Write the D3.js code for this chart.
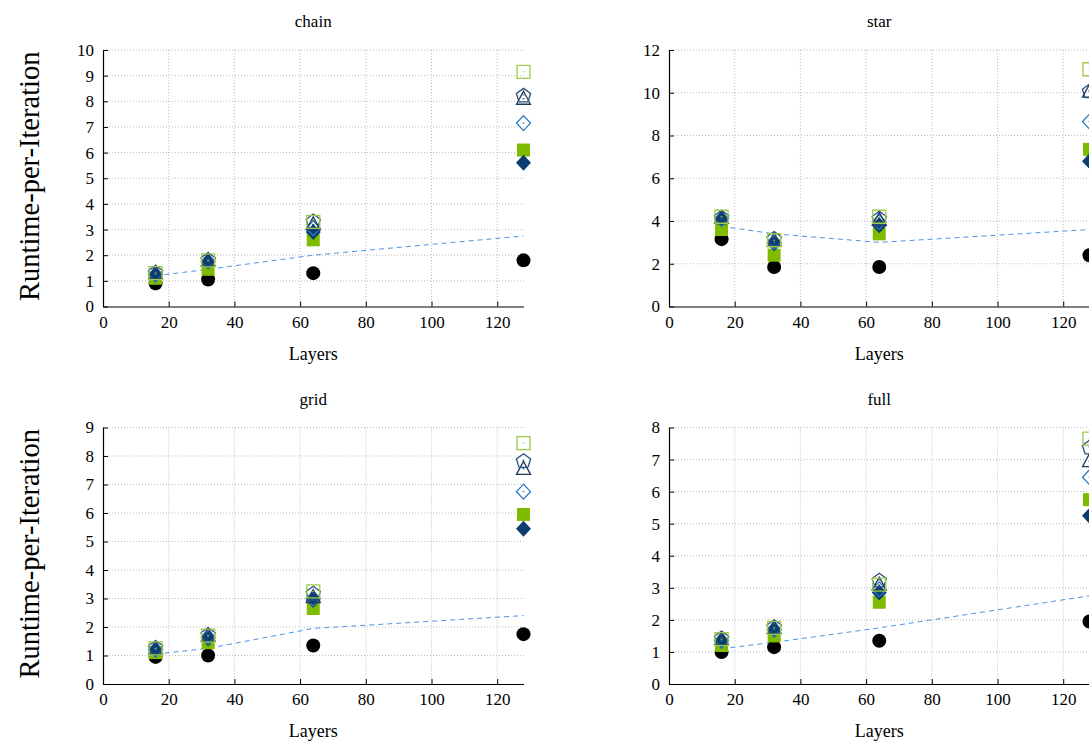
<!DOCTYPE html>
<html>
<head>
<meta charset="utf-8">
<script src="https://cdn.jsdelivr.net/npm/d3@7"></script>
<style>
  body { margin: 0; background: #fff; }
  svg text { font-family: "Liberation Serif", "Times New Roman", serif !important; }
</style>
</head>
<body>
<div id="chart"></div>
<script>
// data
var layers = [16, 32, 64, 128]
var panelNames = ["chain", "star", "grid", "full"]
var yMax = [10, 12, 9, 8]
var yStep = [1, 2, 1, 1]
var xTicks = [0, 20, 40, 60, 80, 100, 120]

// one array per series, one row per panel (chain, star, grid, full)
var circleFilled = [[0.9, 1.05, 1.3, 1.8], [3.15, 1.85, 1.85, 2.4], [0.95, 1.0, 1.35, 1.75], [1.0, 1.15, 1.35, 1.95]]
var squareFilled = [[1.1, 1.45, 2.6, 6.1], [3.6, 2.4, 3.4, 7.35], [1.1, 1.45, 2.65, 5.95], [1.2, 1.5, 2.55, 5.75]]
var diamondFilled = [[1.25, 1.75, 2.9, 5.6], [4.1, 2.95, 3.8, 6.8], [1.2, 1.6, 2.95, 5.45], [1.35, 1.7, 2.85, 5.25]]
var diamondOpen = [[1.25, 1.75, 3.05, 7.15], [4.1, 3.0, 3.95, 8.65], [1.2, 1.65, 3.0, 6.75], [1.35, 1.7, 2.95, 6.45]]
var triangleOpen = [[1.3, 1.8, 3.2, 8.1], [4.15, 3.1, 4.05, 10.05], [1.25, 1.7, 3.05, 7.55], [1.4, 1.75, 3.1, 6.95]]
var pentagonOpen = [[1.35, 1.85, 3.35, 8.25], [4.2, 3.2, 4.15, 10.1], [1.3, 1.75, 3.2, 7.85], [1.45, 1.8, 3.25, 7.4]]
var squareOpen = [[1.3, 1.8, 3.3, 9.15], [4.2, 3.1, 4.2, 11.1], [1.25, 1.7, 3.25, 8.45], [1.4, 1.75, 3.1, 7.65]]
var dashedLine = [[1.2, 1.45, 2.0, 2.75], [3.75, 3.4, 3.0, 3.6], [1.05, 1.25, 1.95, 2.4], [1.1, 1.3, 1.75, 2.75]]

var W = 1089, H = 742
var svg = d3.select("#chart").append("svg")
    .attr("width", W).attr("height", H)

// plot areas (left, top, width, height)
var plotW = 420.5, plotH = 256.5
var origins = [[103, 50], [669, 50], [103, 427.5], [669, 427.5]]

// marker shapes
function pentagonPath(r) {
    var p = []
    for (var i = 0; i < 5; i++) {
        var a = -Math.PI / 2 + i * 2 * Math.PI / 5
        p.push([r * Math.cos(a), r * Math.sin(a) + 1])
    }
    return "M" + p.join("L") + "Z"
}
var markers = [
    {data: circleFilled, path: "M-7,0A7,7 0 1,0 7,0A7,7 0 1,0 -7,0Z", fill: "#000", stroke: "none"},
    {data: squareFilled, path: "M-6.5,-6.5H6.5V6.5H-6.5Z", fill: "#7fbc00", stroke: "none"},
    {data: diamondFilled, path: "M0,-8L7.5,0L0,8L-7.5,0Z", fill: "#0b3d6e", stroke: "none"},
    {data: diamondOpen, path: "M0,-7.5L7,0L0,7.5L-7,0Z", fill: "none", stroke: "#2a75c4", dot: true},
    {data: triangleOpen, path: "M0,-7.5L7,5.5L-7,5.5Z", fill: "none", stroke: "#1a3a60", dot: true},
    {data: pentagonOpen, path: pentagonPath(7.5), fill: "none", stroke: "#2b4f7a", dot: true},
    {data: squareOpen, path: "M-6.5,-6.5H6.5V6.5H-6.5Z", fill: "none", stroke: "#9ccc4a", dot: true}
]

panelNames.forEach(function(name, k) {
    var ox = origins[k][0], oy = origins[k][1]
    var g = svg.append("g").attr("transform", "translate(" + ox + "," + oy + ")")

    var x = d3.scaleLinear().domain([0, 128]).range([0, plotW])
    var y = d3.scaleLinear().domain([0, yMax[k]]).range([plotH, 0])
    var yTicks = d3.range(0, yMax[k] + 0.001, yStep[k])

    // dotted grid
    g.append("g").selectAll("line.gx")
        .data(xTicks.slice(1))
        .enter().append("line")
        .attr("x1", function(d) { return x(d) }).attr("x2", function(d) { return x(d) })
        .attr("y1", 0).attr("y2", plotH)
        .attr("stroke", "#bdbdbd").attr("stroke-dasharray", "1,2")
    g.append("g").selectAll("line.gy")
        .data(yTicks.slice(1))
        .enter().append("line")
        .attr("x1", 0).attr("x2", plotW)
        .attr("y1", function(d) { return y(d) }).attr("y2", function(d) { return y(d) })
        .attr("stroke", "#bdbdbd").attr("stroke-dasharray", "1,2")

    // axes
    var xa = g.append("g").attr("transform", "translate(0," + plotH + ")")
        .call(d3.axisBottom(x).tickValues(xTicks).tickSize(-5).tickPadding(9).tickSizeOuter(0))
    var ya = g.append("g")
        .call(d3.axisLeft(y).tickValues(yTicks).tickSize(-5).tickPadding(9).tickSizeOuter(0))
    ;[xa, ya].forEach(function(a) {
        a.attr("font-family", null).attr("font-size", 17)
        a.selectAll("text").attr("fill", "#000")
        a.select(".domain").attr("stroke", "#000").attr("stroke-width", 1.2)
        a.selectAll(".tick line").attr("stroke", "#000")
    })

    // dashed line
    var line = d3.line()
        .x(function(d, i) { return x(layers[i]) })
        .y(function(d) { return y(d) })
    g.append("path")
        .datum(dashedLine[k])
        .attr("d", line)
        .attr("fill", "none")
        .attr("stroke", "#4a94e6")
        .attr("stroke-width", 1)
        .attr("stroke-dasharray", "5,4")

    // markers
    markers.forEach(function(m) {
        var pts = g.append("g").selectAll("g")
            .data(m.data[k])
            .enter().append("g")
            .attr("transform", function(d, i) { return "translate(" + x(layers[i]) + "," + y(d) + ")" })
        pts.append("path")
            .attr("d", m.path)
            .attr("fill", m.fill)
            .attr("stroke", m.stroke)
            .attr("stroke-width", 1.3)
        if (m.dot) {
            pts.append("rect")
                .attr("x", -1).attr("y", -0.5).attr("width", 2).attr("height", 1)
                .attr("fill", m.stroke)
        }
    })

    // titles
    g.append("text")
        .attr("x", plotW / 2).attr("y", -23)
        .attr("text-anchor", "middle")
        .attr("font-size", 17)
        .text(name)
    g.append("text")
        .attr("x", plotW / 2).attr("y", plotH + 53)
        .attr("text-anchor", "middle")
        .attr("font-size", 18)
        .text("Layers")
    if (k % 2 == 0) {
        g.append("text")
            .attr("transform", "translate(" + (-64) + "," + (plotH / 2 - 2) + ") rotate(-90)")
            .attr("text-anchor", "middle")
            .attr("font-size", 28.5)
            .text("Runtime-per-Iteration")
    }
})
</script>
</body>
</html>
